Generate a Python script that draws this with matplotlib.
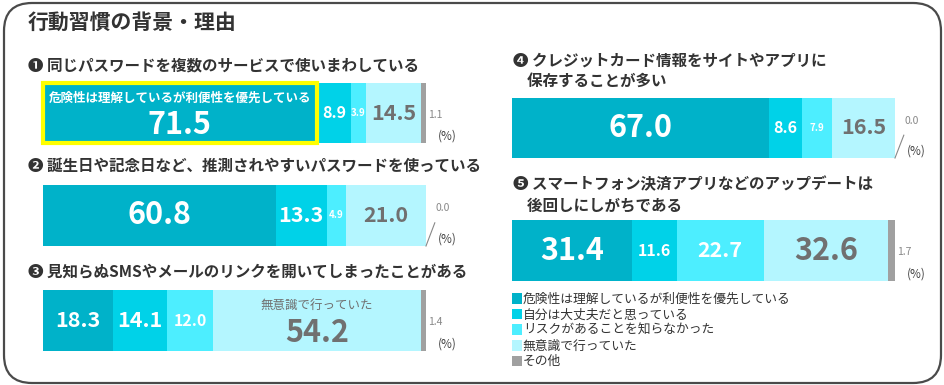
import matplotlib
matplotlib.use("Agg")
import matplotlib.pyplot as plt
from matplotlib.patches import FancyBboxPatch, Patch
from matplotlib.transforms import IdentityTransform

plt.rcParams['font.family'] = ['Noto Sans CJK JP', 'DejaVu Sans']

# --- data ---
categories = ['危険性は理解しているが利便性を優先している', '自分は大丈夫だと思っている',
              'リスクがあることを知らなかった', '無意識で行っていた', 'その他']
questions = ['❶ 同じパスワードを複数のサービスで使いまわしている',
             '❷ 誕生日や記念日など、推測されやすいパスワードを使っている',
             '❸ 見知らぬSMSやメールのリンクを開いてしまったことがある',
             '❹ クレジットカード情報をサイトやアプリに\n    保存することが多い',
             '❺ スマートフォン決済アプリなどのアップデートは\n    後回しにしがちである']
q1 = [71.5, 8.9, 3.9, 14.5, 1.1]
q2 = [60.8, 13.3, 4.9, 21.0, 0.0]
q3 = [18.3, 14.1, 12.0, 54.2, 1.4]
q4 = [67.0, 8.6, 7.9, 16.5, 0.0]
q5 = [31.4, 11.6, 22.7, 32.6, 1.7]
series = [q1, q2, q3, q4, q5]

colors = ['#00B2C9', '#00D2E8', '#4DEEFF', '#B4F6FF', '#A0A0A0']
W, H = 945, 385

fig = plt.figure(figsize=(W / 100, H / 100), dpi=100)


def px_axes(x, y, w, h):
    return fig.add_axes([x / W, 1 - (y + h) / H, w / W, h / H])


def num_size(v):
    if v >= 30:
        return 22
    if v >= 13:
        return 15.5
    if v >= 8:
        return 11.5
    return 7


# outer rounded frame
frame = FancyBboxPatch((4, 2), 937, 380, boxstyle='round,pad=0,rounding_size=28',
                       transform=IdentityTransform(), fc='none', ec='#4a4a4a', lw=1.6)
fig.patches.append(frame)

fig.text(28 / W, 1 - 22 / H, '行動習慣の背景・理由', fontsize=15, fontweight='bold',
         color='#333333', va='center', ha='left')

# bar boxes (x, y, w, h) and question title positions
bar_boxes = [(43, 83, 383, 60), (43, 185, 383, 61), (43, 290, 383, 61),
             (512, 98, 383, 60), (512, 220, 383, 61)]
q_pos = [(28, 65), (28, 166), (28, 272), (513, 71), (513, 195)]
captions = {0: 0, 2: 3}

for i, vals in enumerate(series):
    qx, qy = q_pos[i]
    fig.text(qx / W, 1 - qy / H, questions[i], fontsize=11.2, fontweight='bold',
             color='#333333', va='center', ha='left', linespacing=1.35)
    ax = px_axes(*bar_boxes[i])
    left = 0
    for j, v in enumerate(vals):
        ec = '#FFFF00' if (i == 0 and j == 0) else 'none'
        lw = 3 if ec != 'none' else 0
        ax.barh(0, v, left=left, height=1, color=colors[j], edgecolor=ec,
                linewidth=lw, clip_on=False, zorder=3 if lw else 2)
        mid = left + v / 2
        if j < 4:
            tcol = '#707070' if j == 3 else 'white'
            ny = 0
            if captions.get(i) == j:
                ny = -0.2
                ccol = 'white' if j == 0 else '#707070'
                cw = 'bold' if j == 0 else 'normal'
                ax.text(mid, 0.25, categories[j], ha='center', va='center',
                        fontsize=9, color=ccol, fontweight=cw, zorder=4)
            ax.text(mid, ny, f'{v:.1f}', ha='center', va='center', fontsize=num_size(v),
                    fontweight='bold', color=tcol, zorder=4)
        left += v
    end = left
    if vals[4] > 0:
        ax.text(end + 0.6, -0.03, f'{vals[4]:.1f}', ha='left', va='center', fontsize=7.5,
                color='#888888')
    else:
        ax.plot([end, end + 2.3], [-0.5, -0.12], color='#888888', lw=0.8, clip_on=False)
        ax.text(end + 2.4, 0.12, f'{vals[4]:.1f}', ha='left', va='center', fontsize=7.5,
                color='#888888')
    ax.text(end + 3.2, -0.38, '(%)', ha='left', va='center', fontsize=8.5, color='#444444')
    ax.set_xlim(0, 100)
    ax.set_ylim(-0.5, 0.5)
    ax.axis('off')

handles = [Patch(facecolor=c, edgecolor='none') for c in colors]
fig.legend(handles, categories, loc='upper left', bbox_to_anchor=(512 / W, 1 - 293 / H),
           frameon=False, fontsize=9.2, handlelength=0.75, handleheight=0.9,
           handletextpad=0.1, labelspacing=0.2, borderpad=0, borderaxespad=0,
           labelcolor='#333333')

fig.savefig('out.png', dpi=100, facecolor='white')
